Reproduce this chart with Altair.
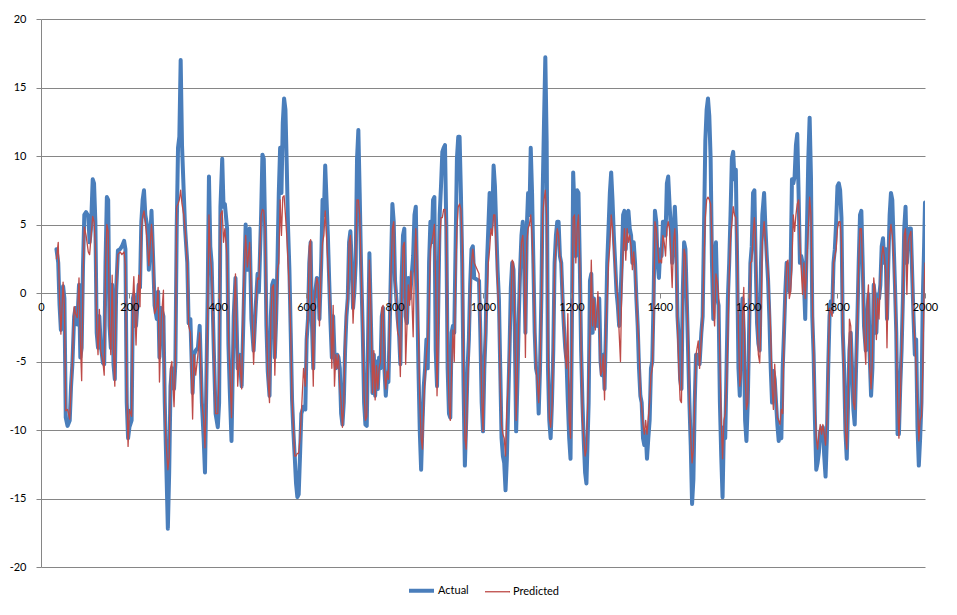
import altair as alt
import pandas as pd

# ---- data (x = sample index, values for Actual / Predicted) ----
X1 = [35, 39, 42, 45, 50, 53, 56, 60, 65, 68,
      71, 75, 78, 82, 86, 89, 92, 95, 98, 102,
      107, 110, 113, 117, 120, 123, 126, 129, 132, 135,
      140, 143, 146, 149, 152, 155, 158, 161, 164, 167,
      170, 174, 179, 183, 188, 191, 194, 197, 200, 205,
      208, 210, 215, 218, 221, 224, 227, 230, 233, 236,
      241, 244]
A1 = [3.2, 2.2, -0.9, -2.7, 0.5, -0.4, -9.1, -9.7, -9.3, -6.8,
      -5.2, -1.7, -1.1, -2.3, 0.6, -4.7, -4.0, 1.9, 5.7, 5.9,
      5.6, 3.7, 4.7, 8.3, 8.0, 5.2, -2.9, -4.0, -1.7, -3.7,
      -5.1, -5.2, 2.2, 7.0, 6.8, -2.4, -4.0, 0.6, -5.2, -6.3,
      0.1, 3.1, 3.2, 3.4, 3.8, 3.2, -8.0, -10.6, -9.8, -9.3,
      -0.4, -0.1, -2.4, -0.9, 0.6, 0.4, 5.2, 6.8, 7.5, 5.7,
      4.7, 1.7]
P1 = [2.5, 3.7, -0.5, -3.0, 0.8, -1.0, -8.6, -8.5, -9.2, -7.0,
      -5.0, -1.0, -1.5, -1.8, 1.1, -3.5, -6.4, 1.0, 4.8, 4.2,
      3.0, 2.8, 4.0, 5.6, 5.2, 3.5, -2.5, -4.5, -1.2, -4.2,
      -5.0, -6.0, 2.0, 5.0, 4.5, -2.5, -4.5, 1.3, -4.3, -6.8,
      0.3, 2.8, 3.0, 2.8, 3.0, 2.0, -7.0, -11.2, -8.5, -9.0,
      -0.2, 1.2, -3.8, -0.7, 1.3, -1.0, 4.5, 5.6, 6.0, 5.2,
      3.5, 2.0]

X2 = [250, 254, 257, 262, 265, 268, 272, 277, 280, 283,
      287, 290, 293, 296, 301, 304, 307, 310, 313, 316,
      319, 323, 326, 331, 334, 338, 343, 346, 350, 355,
      359, 364, 368, 371, 374, 377, 380, 383, 386, 391,
      395, 400, 403, 406, 410, 413, 416, 421, 424, 427,
      431, 436, 440, 445, 449, 454, 458, 463, 467, 472,
      476, 481, 486, 490]
A2 = [6.0, 2.2, -0.9, -1.9, 0.1, -4.7, -1.1, -1.7, -8.0, -11.9,
      -17.2, -13.1, -6.8, -5.5, -7.0, -5.2, 4.7, 10.6, 11.4, 17.0,
      10.8, 7.3, 4.7, 2.2, -2.2, -1.9, -7.3, -4.5, -4.2, -4.0,
      -2.4, -8.0, -10.6, -13.1, -6.8, -0.4, 8.5, 3.4, 2.2, -4.2,
      -8.8, -9.8, -8.0, 6.3, 9.8, 6.3, 6.5, 4.7, -3.7, -7.0,
      -10.8, -1.7, 1.1, -5.5, -4.5, -6.8, -1.9, 5.0, 1.7, 4.7,
      -1.9, -4.2, -0.9, 1.4]
P2 = [5.0, 3.0, -1.5, -1.0, 0.4, -6.5, -2.0, 0.2, -8.4, -11.0,
      -12.9, -12.0, -5.5, -5.0, -8.3, -5.2, 6.3, 6.5, 6.8, 7.5,
      6.5, 5.7, 4.7, 2.2, -2.4, -2.9, -9.2, -4.5, -6.0, -4.5,
      -2.9, -8.0, -9.3, -11.3, -6.8, -1.7, 5.7, 2.7, 1.7, -4.2,
      -8.8, -8.8, -5.5, 5.7, 6.0, 3.7, 4.7, 2.7, -2.9, -5.5,
      -9.1, -1.9, 1.4, -6.8, -4.5, -7.0, 0.1, 4.2, 1.9, 3.7,
      -0.4, -5.2, -0.9, 1.1]

X3 = [493, 498, 501, 504, 507, 510, 513, 517, 520, 523,
      526, 529, 532, 535, 538, 541, 544, 547, 550, 553,
      556, 559, 562, 565, 568, 571, 574, 577, 580, 583,
      586, 589, 594, 598, 601, 604, 607, 610, 613, 616,
      619, 624, 627, 630, 634, 637, 640, 643, 646, 649,
      652, 655, 658, 661, 664, 667, 670, 673, 676, 679,
      682, 685, 688, 691, 694, 697, 700, 703, 706, 709,
      712, 715, 718, 721, 724, 728, 731, 734, 737]
A3 = [0.1, 5.7, 10.1, 9.8, 4.7, -2.4, -5.7, -7.5, -1.7, 0.6,
      0.9, -4.7, -1.9, 2.2, 7.3, 10.6, 7.3, 12.4, 14.2, 13.4,
      9.3, 4.7, 1.7, -2.9, -7.8, -10.1, -11.9, -13.9, -14.9, -14.7,
      -11.9, -8.8, -8.3, -8.5, -3.4, -1.9, 2.2, 3.7, -2.2, -5.5,
      -0.4, 1.1, 0.9, -1.9, 2.2, 6.8, 5.7, 9.3, 6.8, 4.2,
      0.9, -2.2, -4.7, -1.7, -4.5, -5.5, -4.5, -4.7, -5.5, -8.8,
      -9.6, -8.0, -4.2, -1.7, -0.4, 3.7, 4.5, 2.2, -1.1, 0.1,
      2.2, 9.8, 11.9, 7.3, 2.2, -2.9, -8.0, -9.6, -9.7]
P3 = [1.0, 5.7, 6.1, 6.0, 4.7, -1.7, -6.0, -8.0, -1.9, 0.4,
      0.6, -6.0, -2.4, 1.7, 2.2, 6.8, 4.2, 7.0, 7.1, 5.7,
      4.2, 2.2, 0.1, -2.9, -7.8, -9.8, -11.9, -11.9, -11.7, -11.7,
      -10.6, -8.8, -5.5, -6.8, -2.9, -1.9, 3.4, 3.9, -2.2, -6.8,
      -0.4, 1.1, 0.6, -2.4, 2.2, 3.7, 4.2, 6.0, 4.2, 2.2,
      0.6, -1.7, -5.5, -0.9, -6.8, -4.5, -5.5, -4.5, -6.8, -8.0,
      -9.8, -8.0, -3.4, -1.4, -0.4, 3.7, 4.2, 1.7, -2.2, 0.1,
      2.2, 6.8, 6.8, 5.7, 2.2, -2.9, -7.5, -9.3, -9.0]

X4 = [743, 747, 750, 753, 756, 759, 762, 765, 768, 771,
      774, 777, 780, 783, 786, 789, 792, 795, 798, 801,
      804, 807, 810, 813, 816, 819, 822, 825, 828, 831,
      834, 837, 842, 845, 848, 851, 854, 857, 860, 863,
      866, 869, 872, 875, 878, 881, 884, 887, 890, 893,
      896, 899, 902, 905, 908, 911, 914, 917, 920, 923,
      926, 929, 932, 935, 938, 941, 944, 947, 950, 953,
      956, 959, 962, 965, 968, 971, 974, 977, 980]
A4 = [2.9, -2.9, -7.3, -4.5, -7.5, -5.0, -7.0, -4.7, -5.5, -1.7,
      -1.1, -5.5, -7.5, -6.0, -6.5, -2.4, 2.2, 6.5, 5.2, 0.9,
      -0.4, -1.9, -2.9, -5.2, 1.1, 4.2, 4.7, -1.7, -2.2, 1.1,
      -0.4, 0.6, 2.7, 5.7, 6.3, -0.1, -5.5, -10.1, -12.9, -9.6,
      -6.8, -5.5, -3.4, -5.5, 2.2, 5.2, 3.7, 6.8, 7.0, -4.2,
      -6.8, -0.4, 5.7, 7.8, 10.3, 10.6, 10.8, 4.7, -5.5, -8.8,
      -9.1, -2.9, -2.4, -2.9, 3.4, 9.8, 11.4, 11.4, 7.3, 2.2,
      -6.8, -12.6, -9.3, -5.5, -3.4, 0.6, 3.2, 3.4, 1.1]
P4 = [2.4, -1.9, -7.3, -4.2, -7.8, -5.3, -7.0, -5.5, -5.0, -1.1,
      -0.9, -5.7, -7.0, -5.7, -6.3, -1.7, 1.7, 4.7, 5.2, 0.9,
      -0.4, -2.9, -3.2, -6.1, -0.4, 3.4, 3.7, -5.2, -2.4, 0.6,
      -0.9, 1.6, -3.2, 2.2, 4.7, 2.0, -2.9, -8.0, -10.6, -11.4,
      -8.0, -6.0, -4.5, -3.4, -1.0, 3.2, 3.7, 4.2, 5.0, 0.5,
      -7.5, -2.9, 3.7, 5.5, 5.5, 6.1, 6.1, 4.7, -4.2, -8.0,
      -9.3, -5.5, -2.7, -5.0, 1.0, 4.7, 6.3, 6.5, 6.1, 3.7,
      -5.5, -10.6, -11.4, -6.8, -4.5, 0.0, 2.2, 3.2, 2.2]

X5 = [991, 994, 997, 1000, 1003, 1006, 1009, 1012, 1015, 1018,
      1021, 1024, 1027, 1030, 1033, 1036, 1039, 1042, 1045, 1048,
      1051, 1054, 1057, 1060, 1063, 1066, 1069, 1072, 1075, 1078,
      1081, 1084, 1087, 1090, 1093, 1096, 1099, 1102, 1105, 1108,
      1111, 1114, 1117, 1120, 1123, 1126, 1129, 1132, 1135, 1138,
      1141, 1144, 1147, 1150, 1153, 1156, 1159, 1162, 1165, 1168,
      1171, 1174, 1177, 1180, 1183, 1186, 1189, 1192, 1195, 1198,
      1201, 1204, 1207, 1210, 1213, 1216, 1219, 1222, 1225, 1228,
      1231, 1234]
A5 = [0.9, -2.9, -8.0, -10.1, -5.5, -2.9, 2.2, 4.7, 7.3, 4.7,
      5.7, 9.3, 7.8, 4.7, 1.7, -0.4, -5.5, -10.6, -11.9, -12.4,
      -14.4, -12.1, -8.0, -4.2, 0.4, 2.2, 1.7, -2.9, -10.1, -6.3,
      -1.7, 1.7, 4.2, 5.2, 2.2, -2.9, 4.7, 7.3, 5.7, 10.6,
      7.3, 2.2, -2.9, -5.5, -6.0, -8.8, -5.5, -0.4, 7.3, 12.4,
      17.2, 11.1, -5.5, -9.3, -10.6, -8.0, -4.2, 2.2, 4.2, 5.2,
      5.2, 2.7, 2.2, -0.4, -2.4, -4.0, -5.0, -8.0, -10.6, -12.1,
      -2.9, 8.8, 6.0, 2.7, 7.5, 7.3, 2.2, -4.2, -8.0, -10.8,
      -13.1, -13.9]
P5 = [1.4, -2.4, -7.5, -10.1, -5.7, -2.9, -0.4, 2.2, 3.2, 4.7,
      4.2, 5.7, 5.7, 3.2, 0.6, -1.4, -6.8, -9.6, -10.3, -10.6,
      -11.9, -8.5, -6.8, -4.2, -0.9, 2.4, 2.2, -2.4, -9.3, -5.5,
      -1.9, 1.7, 3.7, 4.2, 2.2, -4.7, 3.7, 4.7, 5.0, 5.7,
      4.2, 1.7, -2.4, -5.5, -6.5, -8.0, -5.7, -0.9, 5.7, 6.8,
      7.5, 5.7, -2.9, -9.1, -9.8, -8.5, -4.2, 1.7, 3.4, 4.7,
      4.2, 2.7, 2.2, -0.4, -2.4, -4.5, -5.5, -1.5, -9.3, -10.6,
      -2.9, 5.5, 5.7, 2.2, 4.7, 5.7, 2.2, -4.2, -9.3, -10.6,
      -11.9, -11.4]

X6 = [1239, 1242, 1245, 1248, 1251, 1254, 1257, 1260, 1263, 1266,
      1269, 1272, 1275, 1278, 1281, 1284, 1287, 1290, 1293, 1296,
      1299, 1302, 1305, 1308, 1311, 1314, 1317, 1320, 1323, 1326,
      1329, 1332, 1335, 1338, 1341, 1344, 1347, 1350, 1353, 1356,
      1359, 1362, 1365, 1368, 1371, 1374, 1377, 1380, 1383, 1386,
      1389, 1392, 1395, 1398, 1401, 1404, 1407, 1410, 1413, 1416,
      1419, 1422, 1425, 1428, 1431, 1434, 1437, 1440, 1443, 1446,
      1449, 1452, 1455, 1458, 1461, 1464, 1467, 1470, 1473, 1476,
      1479, 1482]
A6 = [-8.0, 0.9, 1.4, -2.9, -0.4, -2.4, -1.7, -2.4, -0.4, -5.0,
      -6.0, -4.5, -7.0, -2.9, 2.2, 4.7, 7.3, 8.8, 6.8, 4.2,
      2.2, 0.1, -0.9, -2.4, -0.4, 2.2, 5.7, 6.0, 3.2, 5.7,
      6.0, 4.7, 4.2, 2.2, 3.7, 2.2, -0.4, -2.4, -5.5, -7.5,
      -8.0, -10.6, -11.1, -10.1, -12.1, -10.6, -9.3, -5.5, -5.0, -0.4,
      6.0, 5.2, 2.2, 1.1, 3.2, 2.7, 5.2, 5.2, 4.2, 8.0,
      8.5, 6.5, 4.7, 2.2, 4.2, 6.3, 4.2, -1.7, -3.4, -6.3,
      -7.0, 0.1, 3.7, 3.2, -0.4, -4.2, -8.0, -11.1, -15.4, -13.6,
      -8.0, -4.5]
P6 = [-6.0, -2.9, 2.4, -2.4, -0.4, -2.7, -1.7, 0.1, -2.2, -6.0,
      -5.7, -4.5, -7.8, -2.4, -0.4, 2.2, 3.4, 5.7, 4.7, 3.2,
      1.7, 0.6, -0.4, -2.9, -5.0, 0.6, 3.2, 4.7, 2.4, 4.7,
      3.7, 4.2, 3.4, 1.7, 3.0, 1.7, -0.4, -2.4, -3.7, -7.5,
      -8.3, -9.6, -10.3, -9.3, -10.3, -9.1, -8.0, -6.0, -5.5, -2.4,
      5.2, 4.7, 3.4, 2.2, 2.4, 2.2, 4.2, 3.7, 2.7, 4.7,
      5.2, 4.7, 2.7, 0.4, 3.7, 4.7, 2.2, -2.4, -5.5, -7.8,
      -8.0, -0.4, 3.2, 2.7, -0.4, -2.9, -8.0, -10.6, -12.4, -11.4,
      -8.0, -4.5]

X7 = [1487, 1490, 1494, 1497, 1500, 1503, 1506, 1509, 1512, 1515,
      1518, 1521, 1524, 1527, 1530, 1533, 1536, 1539, 1542, 1545,
      1548, 1551, 1554, 1557, 1560, 1563, 1566, 1569, 1572, 1575,
      1578, 1581, 1584, 1587, 1590, 1593, 1596, 1599, 1602, 1605,
      1608, 1611, 1614, 1617, 1620, 1623, 1626, 1629, 1632, 1636,
      1639, 1642, 1645, 1648, 1651, 1654, 1657, 1660, 1663, 1666,
      1669, 1672, 1675, 1678, 1681, 1684, 1687, 1690, 1693, 1696,
      1699, 1702, 1705, 1708, 1711, 1714, 1717, 1720, 1723, 1726,
      1729]
A7 = [-4.5, -5.2, -2.9, -1.7, 4.7, 11.1, 13.4, 14.2, 12.9, 9.8,
      2.2, -1.9, 2.2, 3.7, -0.4, -0.9, -8.0, -11.9, -14.9, -9.8,
      -10.6, -5.5, -0.4, 2.2, 5.7, 9.8, 10.3, 8.3, 9.0, 2.2,
      -5.5, -7.5, -2.9, -0.4, -2.9, -9.3, -10.8, -8.0, -2.9, 2.2,
      3.4, 7.3, 7.5, 2.2, -2.2, -3.7, -4.2, 2.2, 5.7, 7.3,
      4.7, 2.7, 0.9, -1.9, -5.5, -8.0, -5.7, -6.3, -8.0, -9.6,
      -10.8, -10.1, -10.6, -5.5, -2.9, 0.1, 2.2, 0.9, 0.1, 1.7,
      8.3, 8.0, 8.5, 10.8, 11.6, 7.3, 2.2, 2.7, 2.2, 0.9,
      -1.9]
P7 = [-3.5, -5.5, -3.2, -1.5, 2.5, 5.5, 6.8, 7.0, 6.8, 6.5,
      4.0, -1.0, -2.4, 1.4, 0.8, -0.2, -5.0, -9.3, -12.1, -9.3,
      -8.8, -6.8, -3.0, 1.2, 4.0, 5.0, 6.3, 5.7, 5.5, 3.5,
      -2.9, -6.8, -6.0, -1.5, 0.4, -6.0, -8.5, -8.0, -4.2, 2.2,
      2.3, 4.2, 5.5, 3.7, -1.7, -4.5, -5.1, -2.0, 3.7, 5.2,
      4.0, 2.4, 1.6, -0.5, -3.0, -6.8, -8.5, -5.2, -7.5, -9.1,
      -9.3, -9.6, -8.5, -8.8, -2.9, -0.4, 2.2, 2.4, -0.4, 0.1,
      2.2, 5.7, 4.5, 5.7, 6.5, 6.8, 3.7, 1.7, -0.1, 2.2,
      -0.4]

X8 = [1736, 1739, 1742, 1745, 1748, 1751, 1754, 1757, 1760, 1763,
      1766, 1769, 1772, 1775, 1778, 1781, 1784, 1787, 1790, 1793,
      1796, 1799, 1802, 1805, 1808, 1811, 1814, 1817, 1820, 1823,
      1826, 1829, 1832, 1835, 1838, 1841, 1844, 1847, 1850, 1853,
      1856, 1859, 1862, 1866, 1869, 1872, 1875, 1878, 1881, 1884,
      1887, 1890, 1893, 1896, 1899, 1902, 1905, 1908, 1911, 1914,
      1917, 1920, 1923, 1926, 1929, 1932, 1935, 1938, 1941, 1944,
      1947, 1950, 1953, 1956, 1959, 1962, 1965, 1968, 1971, 1974,
      1977, 1980, 1983, 1986, 1989, 1992, 1995, 1998, 2000]
A8 = [9.8, 12.8, 8.5, -1.7, -4.5, -9.3, -12.9, -12.4, -11.6, -10.1,
      -10.6, -9.8, -11.9, -13.4, -10.6, -5.5, -1.7, -0.6, -1.4, 2.2,
      3.2, 5.2, 7.8, 8.0, 7.5, 5.5, -2.9, -5.5, -10.1, -12.1,
      -8.0, -4.2, -2.9, -5.5, -8.5, -9.6, -5.5, -1.9, 2.2, 5.7,
      6.0, 2.2, -2.4, -4.2, -1.9, -0.1, -4.7, -7.5, -5.5, 0.6,
      -0.4, -2.9, -0.1, -0.4, 0.6, 3.4, 4.0, 2.2, 3.2, -1.9,
      2.2, 5.7, 7.3, 6.8, 3.7, 0.6, -2.9, -10.3, -10.3, -6.8,
      -4.2, -0.4, 4.7, 6.3, 2.2, 4.2, 4.7, 4.7, 1.4, -1.7,
      -4.5, -3.4, -9.8, -12.6, -10.6, -8.0, -0.4, 3.4, 6.6]
P8 = [4.7, 7.0, 5.7, -0.4, -4.2, -8.0, -10.6, -11.4, -10.3, -9.6,
      -10.3, -9.6, -10.3, -11.1, -9.3, -5.5, -1.1, -1.4, -1.7, 2.2,
      2.7, 3.2, 4.7, 5.2, 5.2, 3.7, -2.9, -6.8, -10.1, -11.4,
      -8.0, -1.9, -2.4, -5.5, -8.0, -8.5, -5.5, -1.9, 2.2, 4.7,
      4.7, 1.7, -2.9, -5.2, -0.9, 0.6, -5.5, -7.0, -4.7, 1.1,
      0.1, -3.4, -0.4, -1.9, 1.1, 2.7, 3.4, 2.7, 1.7, -4.0,
      1.7, 4.2, 5.0, 4.2, 2.7, 0.1, -2.9, -8.0, -10.6, -8.0,
      -4.2, -0.9, 4.2, 4.7, -0.1, 3.7, 4.2, 4.5, 1.6, -1.9,
      -3.4, -5.5, -8.0, -10.8, -9.3, -9.0, -5.5, 0.5, 2.2]

SERIES = ["Actual", "Predicted"]
COLORS = ["#4A7EBB", "#BE4B48"]
WIDTHS = [4.0, 1.3]
X_TICKS = list(range(0, 2001, 200))
Y_TICKS = list(range(-20, 21, 5))

# ---- build table ----
rows = []
for xs, a_vals, p_vals in [(X1, A1, P1), (X2, A2, P2), (X3, A3, P3), (X4, A4, P4),
                           (X5, A5, P5), (X6, A6, P6), (X7, A7, P7), (X8, A8, P8)]:
    n = min(len(xs), len(a_vals), len(p_vals))
    for i in range(n):
        rows.append({"x": xs[i], "series": "Actual", "value": a_vals[i]})
        rows.append({"x": xs[i], "series": "Predicted", "value": p_vals[i]})
df = pd.DataFrame(rows)

FONT = "Lato"
GRID = "#868686"
W, H = 884, 548

legend = alt.Legend(title=None, orient="none", legendX=366, legendY=557,
                    direction="horizontal", symbolType="stroke", symbolSize=625,
                    labelFont=FONT, labelFontSize=11, labelColor="#000000",
                    columnPadding=13, labelOffset=2, padding=0)

chart = alt.Chart(df).mark_line(strokeJoin="round", strokeCap="round", clip=True).encode(
    x=alt.X("x:Q",
            scale=alt.Scale(domain=[0, 2000], nice=False, zero=False),
            axis=alt.Axis(title=None, values=X_TICKS, offset=-H / 2, grid=False,
                          domain=False, tickColor=GRID, tickSize=5, zindex=1,
                          labelFont=FONT, labelFontSize=11, labelColor="#000000",
                          labelPadding=3, labelFlush=False, labelOverlap=False,
                          labelExpr="'' + datum.value")),
    y=alt.Y("value:Q",
            scale=alt.Scale(domain=[-20, 20], nice=False),
            axis=alt.Axis(title=None, values=Y_TICKS, grid=True, gridColor=GRID,
                          domainColor=GRID, tickColor=GRID, tickSize=5,
                          labelFont=FONT, labelFontSize=11, labelColor="#000000",
                          labelPadding=10, labelExpr="'' + datum.value")),
    color=alt.Color("series:N", scale=alt.Scale(domain=SERIES, range=COLORS), legend=legend),
    strokeWidth=alt.StrokeWidth("series:N", scale=alt.Scale(domain=SERIES, range=WIDTHS), legend=legend),
).properties(
    width=W, height=H,
    autosize=alt.AutoSizeParams(type="none"),
    padding={"left": 33, "top": 11, "right": 20, "bottom": 40},
    background="#FFFFFF",
).configure_view(stroke=None)

chart.save("out.html", embed_options={"renderer": "svg", "actions": False})
